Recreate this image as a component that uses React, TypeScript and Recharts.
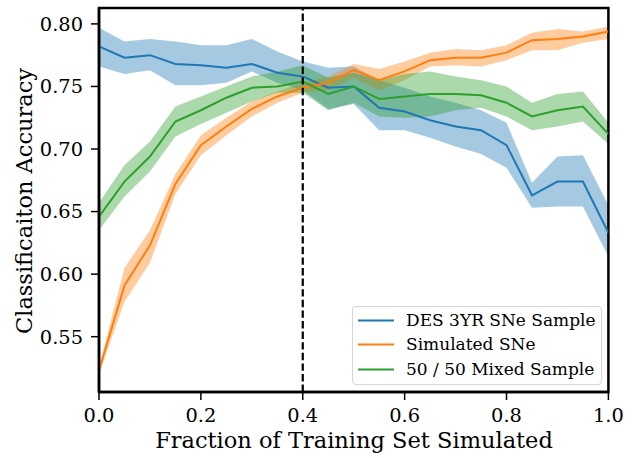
import React from 'react';
import { ComposedChart, Line, Area, XAxis, YAxis, ReferenceLine, ReferenceArea, Legend, Label } from 'recharts';

const fractions = [0, 0.05, 0.1, 0.15, 0.2, 0.25, 0.3, 0.35, 0.4, 0.45, 0.5, 0.55, 0.6, 0.65, 0.7, 0.75, 0.8, 0.85, 0.9, 0.95, 1.0];

const desMean = [0.782, 0.773, 0.775, 0.768, 0.767, 0.765, 0.768, 0.761, 0.758, 0.749, 0.750, 0.733, 0.730, 0.723, 0.718, 0.715, 0.703, 0.663, 0.674, 0.674, 0.633];
const desUpper = [0.797, 0.786, 0.788, 0.786, 0.783, 0.783, 0.788, 0.778, 0.770, 0.765, 0.766, 0.755, 0.749, 0.742, 0.737, 0.731, 0.721, 0.673, 0.694, 0.695, 0.655];
const desLower = [0.766, 0.760, 0.763, 0.751, 0.751, 0.753, 0.762, 0.753, 0.747, 0.732, 0.736, 0.715, 0.715, 0.709, 0.702, 0.696, 0.685, 0.653, 0.654, 0.654, 0.614];

const simMean = [0.523, 0.591, 0.623, 0.672, 0.703, 0.718, 0.732, 0.742, 0.749, 0.753, 0.763, 0.755, 0.762, 0.771, 0.773, 0.773, 0.777, 0.787, 0.788, 0.790, 0.794];
const simUpper = [0.526, 0.605, 0.635, 0.680, 0.711, 0.725, 0.738, 0.746, 0.753, 0.758, 0.768, 0.764, 0.770, 0.777, 0.780, 0.779, 0.783, 0.793, 0.796, 0.794, 0.798];
const simLower = [0.520, 0.578, 0.609, 0.664, 0.695, 0.711, 0.726, 0.737, 0.745, 0.747, 0.757, 0.747, 0.755, 0.766, 0.767, 0.766, 0.771, 0.779, 0.779, 0.785, 0.788];

const mixMean = [0.646, 0.674, 0.694, 0.722, 0.731, 0.741, 0.749, 0.750, 0.754, 0.744, 0.750, 0.740, 0.742, 0.744, 0.744, 0.743, 0.737, 0.726, 0.731, 0.734, 0.712];
const mixUpper = [0.657, 0.687, 0.706, 0.734, 0.742, 0.750, 0.758, 0.762, 0.767, 0.757, 0.761, 0.755, 0.760, 0.762, 0.758, 0.755, 0.750, 0.737, 0.744, 0.746, 0.721];
const mixLower = [0.635, 0.662, 0.682, 0.710, 0.720, 0.729, 0.738, 0.745, 0.745, 0.731, 0.737, 0.726, 0.725, 0.726, 0.731, 0.733, 0.726, 0.715, 0.718, 0.722, 0.704];

const seriesNames = ['DES 3YR SNe Sample', 'Simulated SNe', '50 / 50 Mixed Sample'];
const seriesColors = ['#1f77b4', '#ff7f0e', '#2ca02c'];

const xTicks = [0, 0.2, 0.4, 0.6, 0.8, 1.0];
const yTicks = [0.55, 0.6, 0.65, 0.7, 0.75, 0.8];
const Y_MIN = 0.5058;
const Y_MAX = 0.8127;
const X_MIN = 0;
const X_MAX = 1;
const CUTOFF = 0.4;

const data = fractions.map((x, i) => ({
  x,
  des: desMean[i],
  desBand: [desLower[i], desUpper[i]],
  sim: simMean[i],
  simBand: [simLower[i], simUpper[i]],
  mix: mixMean[i],
  mixBand: [mixLower[i], mixUpper[i]],
}));

const FONT = '"DejaVu Serif", serif';

const LegendBox = () => (
  <div
    style={{
      position: 'relative',
      width: 250,
      height: 79,
      border: '1px solid #d6d6d6',
      borderRadius: 4,
      background: 'rgba(255,255,255,0.8)',
      boxSizing: 'border-box',
      fontFamily: FONT,
      fontSize: 17,
      color: '#000',
    }}
  >
    {seriesNames.map((name, i) => (
      <div key={name} style={{ position: 'absolute', left: 0, top: 1 + i * 24.4, height: 24, width: '100%' }}>
        <svg width={40} height={24} style={{ position: 'absolute', left: 4, top: 0 }}>
          <line x1={1} x2={37} y1={12.5} y2={12.5} stroke={seriesColors[i]} strokeWidth={2} />
        </svg>
        <span style={{ position: 'absolute', left: 53, top: 12, transform: 'translateY(-50%)', whiteSpace: 'nowrap', lineHeight: '20px' }}>
          {name}
        </span>
      </div>
    ))}
  </div>
);

export default function App() {
  const bands = ['desBand', 'simBand', 'mixBand'];
  const means = ['des', 'sim', 'mix'];
  return (
    <div style={{ position: 'absolute', left: 0, top: 0, width: 636, height: 458, background: '#fff' }}>
      <ComposedChart width={636} height={458} data={data} margin={{ top: 8, right: 27.6, left: 0, bottom: 0 }}>
        <XAxis
          dataKey="x"
          type="number"
          domain={[X_MIN, X_MAX]}
          ticks={xTicks}
          tickFormatter={(v: number) => v.toFixed(1)}
          height={66}
          tickSize={8}
          tickMargin={8}
          axisLine={{ stroke: '#000', strokeWidth: 2.5 }}
          tickLine={{ stroke: '#000', strokeWidth: 1.5 }}
          tick={{ fill: '#000', fontSize: 19.4, fontFamily: FONT }}
          allowDataOverflow
        >
          <Label
            content={() => (
              <text x={354} y={448} textAnchor="middle" fontFamily={FONT} fontSize={22.5} fill="#000">
                Fraction of Training Set Simulated
              </text>
            )}
          />
        </XAxis>
        <YAxis
          type="number"
          domain={[Y_MIN, Y_MAX]}
          ticks={yTicks}
          tickFormatter={(v: number) => v.toFixed(2)}
          width={99}
          tickSize={8}
          tickMargin={8}
          axisLine={{ stroke: '#000', strokeWidth: 2.5 }}
          tickLine={{ stroke: '#000', strokeWidth: 1.5 }}
          tick={{ fill: '#000', fontSize: 19.4, fontFamily: FONT }}
          allowDataOverflow
        >
          <Label
            content={() => (
              <text
                x={24}
                y={201}
                transform="rotate(-90 24 201)"
                textAnchor="middle"
                dominantBaseline="central"
                fontFamily={FONT}
                fontSize={22.5}
                fill="#000"
              >
                Classificaiton Accuracy
              </text>
            )}
          />
        </YAxis>
        {bands.map((b, i) => [
          <Area
            key={b}
            dataKey={b}
            type="linear"
            stroke="none"
            fill={seriesColors[i]}
            fillOpacity={0.4}
            isAnimationActive={false}
            dot={false}
            activeDot={false}
            legendType="none"
          />,
          <Line
            key={means[i]}
            dataKey={means[i]}
            type="linear"
            stroke={seriesColors[i]}
            strokeWidth={2}
            dot={false}
            activeDot={false}
            isAnimationActive={false}
          />,
        ])}
        <ReferenceLine x={CUTOFF} stroke="#000" strokeWidth={2.2} strokeDasharray="7.4 3.2" />
        <ReferenceArea x1={X_MIN} x2={X_MAX} y1={Y_MIN} y2={Y_MAX} fill="none" stroke="#000" strokeWidth={2.5} ifOverflow="visible" />
        <Legend
          layout="vertical"
          align="center"
          verticalAlign="middle"
          content={() => <LegendBox />}
          wrapperStyle={{ position: 'absolute', left: 352, top: 306, width: 250, height: 79 }}
        />
      </ComposedChart>
    </div>
  );
}
